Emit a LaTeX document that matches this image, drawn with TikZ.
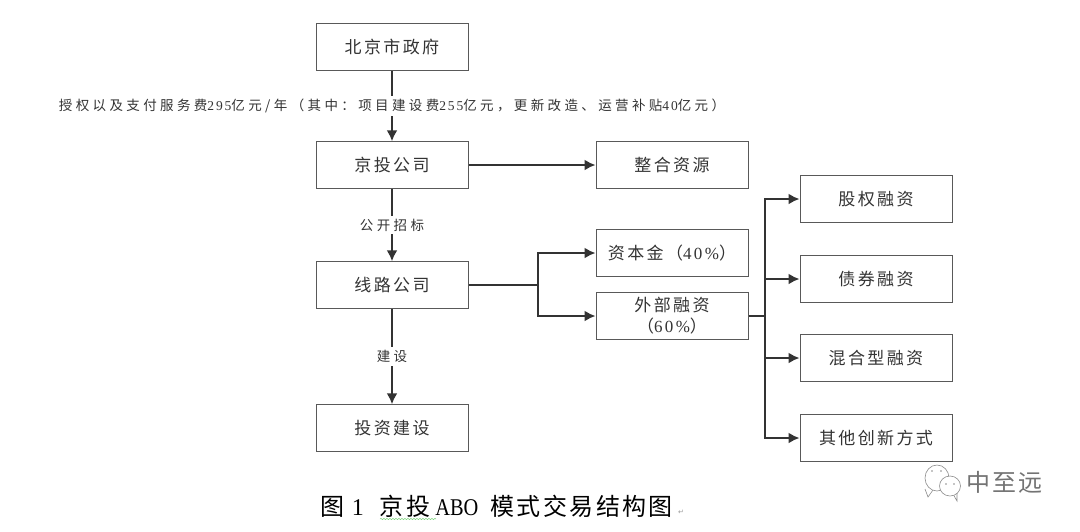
\documentclass[tikz,border=0pt]{standalone}
\usepackage{fontspec}
\setmainfont{Noto Sans CJK SC}[LetterSpace=14]
\newfontfamily\arrowfont{DejaVu Sans}
\newfontfamily\chiffre{Liberation Serif}[LetterSpace=14]
\newfontfamily\sigle{Liberation Serif}[FakeStretch=0.85]
\usetikzlibrary{arrows.meta,decorations.pathmorphing}
\definecolor{encre}{gray}{0.2}
\begin{document}
\begin{tikzpicture}[x=1pt, y=-1pt]
	\tikzset{boite/.style={rectangle, draw=black!65, line width=1pt, minimum width=152pt, minimum height=46.5pt, inner sep=0pt, align=center, text=encre, font=\fontsize{17}{21}\selectfont},
		fleche/.style={>={Latex[length=11pt, width=11pt]}, ->, line width=2pt, black!80},
		trait/.style={line width=2pt, black!80},
		etiquette/.style={fill=white, inner xsep=1pt, inner ysep=3pt, text=encre, font=\fontsize{13.5}{15}\selectfont\addfontfeature{LetterSpace=25}}};
	\useasboundingbox (0,0) rectangle (1080,531);
	\node[boite] (gouv) at (392,47) {北京市政府};
	\node[boite] (jingtou) at (392,165) {京投公司};
	\node[boite] (ressources) at (672,165) {整合资源};
	\node[boite] (ligne) at (392,285) {线路公司};
	\node[boite] (capital) at (672,253) {资本金（{\chiffre 40\%}）};
	\node[boite] (externe) at (672,316) {外部融资\\（{\chiffre 60\%}）};
	\node[boite] (invest) at (392,428) {投资建设};
	\node[boite] (actions) at (876,199) {股权融资};
	\node[boite] (dette) at (876,279) {债券融资};
	\node[boite] (mixte) at (876,358) {混合型融资};
	\node[boite] (autres) at (876,438) {其他创新方式};
	\coordinate (jgauche) at (538,285);
	\coordinate (jdroite) at (765,316);

	\draw[fleche] (gouv) -- node[etiquette] (lgouv) {授权以及支付服务费{\chiffre 295}亿元/年（其中：项目建设费{\chiffre 255}亿元，更新改造、运营补贴{\chiffre 40}亿元）}(jingtou);
	\draw[fleche] (jingtou) -- (ressources);
	\draw[fleche] (jingtou) -- node[etiquette] (lappel) {公开招标}(ligne);
	\draw[fleche] (ligne) -- node[etiquette] (lconstr) {建设}(invest);
	\draw[trait] (ligne) -- (jgauche);
	\draw[fleche] (jgauche) |- (capital);
	\draw[fleche] (jgauche) |- (externe);
	\draw[trait] (externe) -- (jdroite);
	\draw[fleche] (jdroite) |- (actions);
	\draw[fleche] (jdroite) |- (dette);
	\draw[fleche] (jdroite) |- (mixte);
	\draw[fleche] (jdroite) |- (autres);

	\node[anchor=west, inner sep=0pt, font=\fontsize{24}{28}\selectfont\addfontfeature{LetterSpace=10}, text=black] (titre) at (320,506) {图 {\chiffre 1}\hspace{16pt}京投\hspace{5pt}{\sigle ABO}\hspace{12pt}模式交易结构图};
	\node[inner sep=0pt, font=\arrowfont\fontsize{7}{8}\selectfont, text=black!40] (retour) at (681,512) {↵};
	\draw[green!50!gray, decorate, decoration={snake, amplitude=0.5pt, segment length=3pt}] (380,519) -- (436,519);
	\node[anchor=west, inner sep=0pt, font=\fontsize{24}{28}\selectfont\addfontfeature{LetterSpace=8}, text=black!55] (marque) at (966,482) {中至远};
	\draw[black!45, line width=0.6pt, fill=white] (925,489) -- (928,497) -- (933,490);
	\draw[black!45, line width=0.6pt, fill=white] (937,478) ellipse (12pt and 13pt);
	\draw[black!45, line width=0.6pt, fill=white] (953,494) -- (957,501) -- (957,492);
	\draw[black!45, line width=0.6pt, fill=white] (950,486) ellipse (10.5pt and 10pt);
	\foreach \px/\py in {932/471, 941/471, 946/484, 954/484}
		\fill[black!45] (\px,\py) circle (0.8pt);
\end{tikzpicture}
\end{document}
